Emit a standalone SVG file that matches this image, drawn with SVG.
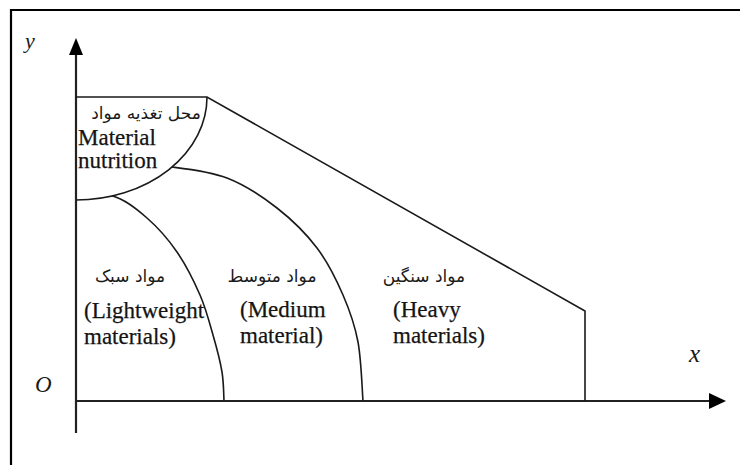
<svg xmlns="http://www.w3.org/2000/svg" width="740" height="465" viewBox="0 0 740 465">
<style>
.frame{stroke:#000;stroke-width:2.2;fill:none}
.axis{stroke:#222;stroke-width:2.2;fill:none}
.curve{stroke:#1a1a1a;stroke-width:1.6;fill:none}
.head{fill:#000}
.lat{font-family:"Liberation Serif","Times New Roman",serif;font-size:23px;fill:#141414;stroke:#141414;stroke-width:0.25}
.var{font-family:"Liberation Serif","Times New Roman",serif;font-style:italic;fill:#1a1a1a}
.fa{font-family:"DejaVu Sans","Noto Sans",sans-serif;font-size:17px;fill:#1a1a1a}
</style>
<rect width="740" height="465" fill="#fff"/>
<g id="frame">
<path class="frame" d="M11,465 V10 H740"/>
</g>
<g id="axes">
<path class="axis" d="M76,433 V52"/>
<polygon class="head" points="76,38 69,55 83,55"/>
<path class="axis" d="M76,401 H712"/>
<polygon class="head" points="726,401 709,393 709,409"/>
<text class="var" x="25" y="48" font-size="22">y</text>
<text class="var" x="35" y="392" font-size="23">O</text>
<text class="var" x="689" y="362" font-size="25">x</text>
</g>
<g id="connectors">
<path class="curve" d="M76,97 H207 L585,311 V401"/>
<path class="curve" d="M207,97 A131,103 0 0 1 76,200"/>
<path class="curve" d="M112,195.8 C124.8,199.2 136.3,208.7 147,218 C157.7,227.3 168.2,239.2 177,252 C185.8,264.8 194,281.2 200,295 C206,308.8 209.3,322.2 213,335 C216.7,347.8 220.2,361 222,372 C223.8,383 223.7,396.2 224,401"/>
<path class="curve" d="M172,167 C184,168.5 209.7,171.3 227,178 C244.3,184.7 262,196.3 277,208 C292,219.7 306,233.5 317,248 C328,262.5 336.2,279.3 343,295 C349.8,310.7 354.7,324.3 358,342 C361.3,359.7 362.2,391.2 363,401"/>
</g>
<g id="node-feeding">
<text class="fa" x="146" y="119" font-size="16" text-anchor="middle">محل تغذیه مواد</text>
<text class="lat" x="78" y="145">Material</text>
<text class="lat" x="78" y="168">nutrition</text>
</g>
<g id="node-light">
<text class="fa" x="130" y="282" text-anchor="middle">مواد سبک</text>
<text class="lat" x="84" y="318">(Lightweight</text>
<text class="lat" x="84" y="344">materials)</text>
</g>
<g id="node-medium">
<text class="fa" x="272" y="282" text-anchor="middle">مواد متوسط</text>
<text class="lat" x="240" y="317">(Medium</text>
<text class="lat" x="240" y="343">material)</text>
</g>
<g id="node-heavy">
<text class="fa" x="424" y="282" text-anchor="middle">مواد سنگین</text>
<text class="lat" x="393" y="317">(Heavy</text>
<text class="lat" x="393" y="343">materials)</text>
</g>
</svg>
